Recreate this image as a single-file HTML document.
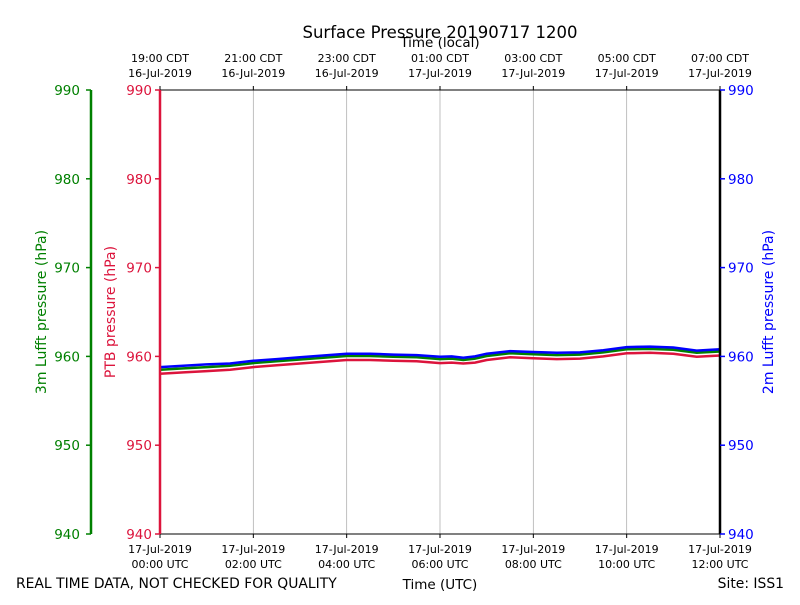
<!DOCTYPE html>
<html><head><meta charset="utf-8"><style>
body{margin:0;background:#fff}
svg text{font-family:"DejaVu Sans","Liberation Sans",sans-serif}
</style></head><body>
<svg id="chart" width="800" height="600" viewBox="0 0 800 600" xmlns="http://www.w3.org/2000/svg">
<rect width="800" height="600" fill="#fff"/>
<text x="440" y="38" font-size="16.5" text-anchor="middle">Surface Pressure 20190717 1200</text>
<text x="440" y="47" font-size="13.5" text-anchor="middle">Time (local)</text>
<text x="440" y="589" font-size="13.5" text-anchor="middle">Time (UTC)</text>
<text x="16" y="588" font-size="13.9">REAL TIME DATA, NOT CHECKED FOR QUALITY</text>
<text x="784" y="588" font-size="13.9" text-anchor="end">Site: ISS1</text>
<text transform="translate(46,312) rotate(-90)" font-size="14" fill="green" text-anchor="middle">3m Lufft pressure (hPa)</text>
<text transform="translate(115,312) rotate(-90)" font-size="14" fill="crimson" text-anchor="middle">PTB pressure (hPa)</text>
<text transform="translate(773,312) rotate(-90)" font-size="14" fill="blue" text-anchor="middle">2m Lufft pressure (hPa)</text>
<g id="grid"></g><g id="series"></g><g id="axes"></g>
</svg>
<script>
const yTicks=[940,950,960,970,980,990];
const xHours=[0,2,4,6,8,10,12];
const utcLabels=["00:00 UTC","02:00 UTC","04:00 UTC","06:00 UTC","08:00 UTC","10:00 UTC","12:00 UTC"];
const utcDates=["17-Jul-2019","17-Jul-2019","17-Jul-2019","17-Jul-2019","17-Jul-2019","17-Jul-2019","17-Jul-2019"];
const localLabels=["19:00 CDT","21:00 CDT","23:00 CDT","01:00 CDT","03:00 CDT","05:00 CDT","07:00 CDT"];
const localDates=["16-Jul-2019","16-Jul-2019","16-Jul-2019","17-Jul-2019","17-Jul-2019","17-Jul-2019","17-Jul-2019"];
const times=[0,0.5,1,1.5,2,2.5,3,3.5,4,4.5,5,5.5,6,6.25,6.5,6.75,7,7.5,8,8.5,9,9.5,10,10.5,11,11.5,12];
const ptb=[958.05,958.2,958.35,958.5,958.8,959.0,959.2,959.4,959.6,959.6,959.5,959.45,959.25,959.3,959.2,959.3,959.6,959.9,959.8,959.7,959.75,960.0,960.35,960.4,960.3,959.95,960.1];
const lufft3=[958.5,958.65,958.8,958.95,959.25,959.45,959.65,959.85,960.05,960.05,959.95,959.9,959.7,959.75,959.6,959.75,960.05,960.35,960.25,960.15,960.2,960.45,960.8,960.85,960.75,960.4,960.55];
const lufft2=[958.8,958.95,959.1,959.2,959.5,959.7,959.9,960.1,960.3,960.3,960.2,960.15,959.95,960.0,959.85,960.0,960.3,960.6,960.5,960.4,960.45,960.7,961.05,961.1,961.0,960.65,960.8];
const X0=160,X1=720,Y0=534,Y1=90;
const xs=h=>X0+(h/12)*(X1-X0);
const ys=v=>Y0-(v-940)/50*(Y0-Y1);
const NS="http://www.w3.org/2000/svg";
function mk(p,t,a){const e=document.createElementNS(NS,t);for(const k in a)e.setAttribute(k,a[k]);p.appendChild(e);return e;}
const grid=document.getElementById('grid'),ser=document.getElementById('series'),ax=document.getElementById('axes');
xHours.forEach((h,i)=>{
 const x=xs(h);
 if(i>0&&i<xHours.length-1){const g=mk(grid,'line',{x1:x,x2:x,y1:Y1,y2:Y0,stroke:'#b0b0b0','stroke-width':0.8});
 
 }
 mk(ax,'line',{x1:x,x2:x,y1:Y0,y2:Y0+4,stroke:'#000'});
 mk(ax,'line',{x1:x,x2:x,y1:Y1,y2:Y1-4,stroke:'#000'});
 const t1=mk(ax,'text',{x:x,y:553,'font-size':11,'text-anchor':'middle'});t1.textContent=utcDates[i];
 
 
 const t2=mk(ax,'text',{x:x,y:568,'font-size':11,'text-anchor':'middle'});t2.textContent=utcLabels[i];
 
 
 const t3=mk(ax,'text',{x:x,y:62,'font-size':11,'text-anchor':'middle'});t3.textContent=localLabels[i];
 
 
 const t4=mk(ax,'text',{x:x,y:77,'font-size':11,'text-anchor':'middle'});t4.textContent=localDates[i];
 
 
});
function line(vals,color,name){
 const d=times.map((t,i)=>(i?'L':'M')+xs(t).toFixed(1)+','+ys(vals[i]).toFixed(1)).join('');
 const p=mk(ser,'path',{d:d,fill:'none',stroke:color,'stroke-width':2.5});
 
 
}
line(ptb,'crimson','ptb-pressure-line');
line(lufft3,'green','lufft-3m-pressure-line');
line(lufft2,'blue','lufft-2m-pressure-line');
mk(ax,'line',{x1:X0,x2:X1,y1:Y1,y2:Y1,stroke:'#000','stroke-width':1});
mk(ax,'line',{x1:X0,x2:X1,y1:Y0,y2:Y0,stroke:'#000','stroke-width':1});
mk(ax,'line',{x1:X0,x2:X0,y1:Y1,y2:Y0,stroke:'crimson','stroke-width':2.5});
mk(ax,'line',{x1:X1,x2:X1,y1:Y1,y2:Y0,stroke:'#000','stroke-width':2.5});
mk(ax,'line',{x1:91,x2:91,y1:Y1,y2:Y0,stroke:'green','stroke-width':2.5});
yTicks.forEach(v=>{
 const y=ys(v);
 mk(ax,'line',{x1:X0-5,x2:X0,y1:y,y2:y,stroke:'crimson','stroke-width':1.5});
 mk(ax,'line',{x1:X1,x2:X1+5,y1:y,y2:y,stroke:'blue','stroke-width':1.5});
 mk(ax,'line',{x1:86,x2:91,y1:y,y2:y,stroke:'green','stroke-width':1.5});
 const a=mk(ax,'text',{x:152,y:y+5,'font-size':13.5,'text-anchor':'end',fill:'crimson'});a.textContent=v;
 
 
 const b=mk(ax,'text',{x:728,y:y+5,'font-size':13.5,fill:'blue'});b.textContent=v;
 
 
 const c=mk(ax,'text',{x:80,y:y+5,'font-size':13.5,'text-anchor':'end',fill:'green'});c.textContent=v;
 
 
});
</script>
</body></html>
